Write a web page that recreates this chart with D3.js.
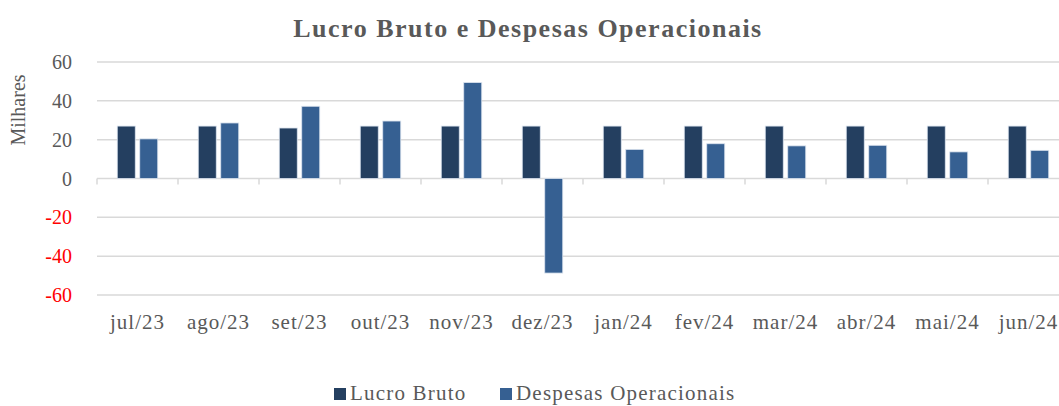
<!DOCTYPE html>
<html>
<head>
<meta charset="utf-8">
<script src="https://cdn.jsdelivr.net/npm/d3@7"></script>
<style>
  body { margin: 0; background: #fff; overflow: hidden; }
  svg text { font-family: "Liberation Serif", "DejaVu Serif", serif; }
</style>
</head>
<body>
<script>
var categories = ["jul/23", "ago/23", "set/23", "out/23", "nov/23", "dez/23", "jan/24", "fev/24", "mar/24", "abr/24", "mai/24", "jun/24"];
var lucroBruto = [27, 27, 26, 27, 27, 27, 27, 27, 27, 27, 27, 27];
var despesas = [20.4, 28.6, 37.2, 29.6, 49.4, -48.7, 15, 17.9, 16.8, 17.1, 13.7, 14.5];
var seriesNames = ["Lucro Bruto", "Despesas Operacionais"];
var yTicks = [60, 40, 20, 0, -20, -40, -60];

var colors = ["#243f60", "#366092"];

var width = 1059, height = 406;

var svg = d3.select("body").append("svg").attr("width", width).attr("height", height);

// plot area runs off the right edge, like the original
var x = d3.scaleBand().domain(categories).range([97, 1069]);
var y = d3.scaleLinear().domain([-60, 60]).range([295, 62]);

// gridlines
svg.selectAll("line.grid")
  .data(yTicks)
  .enter().append("line")
    .attr("class", "grid")
    .attr("x1", 97).attr("x2", width)
    .attr("y1", function(d){ return y(d); })
    .attr("y2", function(d){ return y(d); })
    .attr("stroke", "#d9d9d9")
    .attr("stroke-width", 1.5);

// y tick labels
svg.selectAll("text.ytick")
  .data(yTicks)
  .enter().append("text")
    .attr("class", "ytick")
    .attr("x", 72)
    .attr("y", function(d){ return y(d) + 7; })
    .attr("text-anchor", "end")
    .attr("font-size", 20)
    .attr("fill", function(d){ return d < 0 ? "#ff0000" : "#595959"; })
    .text(function(d){ return d; });

// category tick marks on the zero line
svg.selectAll("line.xtick")
  .data(categories)
  .enter().append("line")
    .attr("class", "xtick")
    .attr("x1", function(d){ return x(d); })
    .attr("x2", function(d){ return x(d); })
    .attr("y1", y(0)).attr("y2", y(0) + 6)
    .attr("stroke", "#d9d9d9")
    .attr("stroke-width", 1.5);

var barW = 18, gap = 4.5;

var groups = svg.selectAll("g.cat")
  .data(categories)
  .enter().append("g")
    .attr("class", "cat")
    .attr("transform", function(d){ return "translate(" + (x(d) + x.bandwidth() / 2) + ",0)"; });

groups.append("rect")
  .attr("x", -barW - gap / 2)
  .attr("width", barW)
  .attr("y", function(d,i){ return y(Math.max(0, lucroBruto[i])); })
  .attr("height", function(d,i){ return Math.abs(y(lucroBruto[i]) - y(0)); })
  .attr("fill", colors[0])
  .attr("stroke", "#dbe3ee").attr("stroke-width", 0.8);

groups.append("rect")
  .attr("x", gap / 2)
  .attr("width", barW)
  .attr("y", function(d,i){ return y(Math.max(0, despesas[i])); })
  .attr("height", function(d,i){ return Math.abs(y(despesas[i]) - y(0)); })
  .attr("fill", colors[1])
  .attr("stroke", "#dbe3ee").attr("stroke-width", 0.8);

// category labels
groups.append("text")
  .attr("y", 329)
  .attr("text-anchor", "middle")
  .attr("font-size", 21)
  .attr("letter-spacing", 1)
  .attr("fill", "#595959")
  .text(function(d){ return d; });

// title
svg.append("text")
  .attr("x", 528).attr("y", 37)
  .attr("text-anchor", "middle")
  .attr("font-size", 26)
  .attr("letter-spacing", 1.5)
  .attr("font-weight", "bold")
  .attr("fill", "#595959")
  .text("Lucro Bruto e Despesas Operacionais");

// y axis title
svg.append("text")
  .attr("transform", "translate(25,110) rotate(-90)")
  .attr("text-anchor", "middle")
  .attr("font-size", 20)
  .attr("fill", "#595959")
  .text("Milhares");

// legend
var legendX = [334, 500];
var legend = svg.selectAll("g.legend")
  .data(seriesNames)
  .enter().append("g")
    .attr("class", "legend")
    .attr("transform", function(d,i){ return "translate(" + legendX[i] + ",388)"; });

legend.append("rect")
  .attr("width", 12).attr("height", 12)
  .attr("fill", function(d,i){ return colors[i]; });

legend.append("text")
  .attr("x", 16).attr("y", 12)
  .attr("font-size", 21)
  .attr("letter-spacing", 1.2)
  .attr("fill", "#595959")
  .text(function(d){ return d; });
</script>
</body>
</html>
